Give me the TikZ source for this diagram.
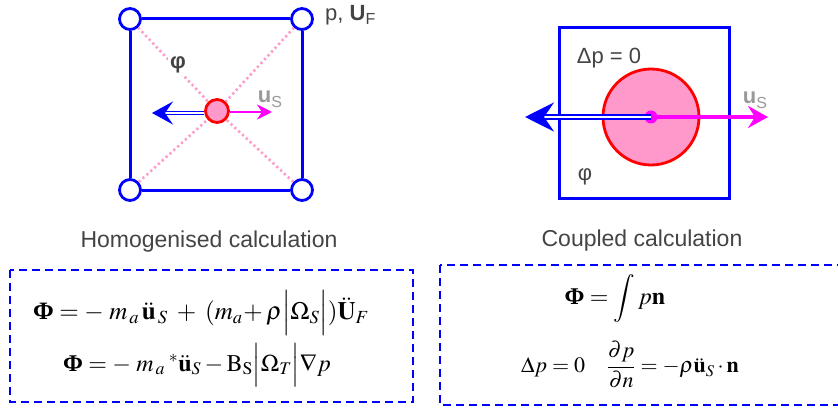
\documentclass[tikz,border=0pt]{standalone}
\usepackage{mathptmx}
\usepackage{amsmath}
\usepackage[no-math]{fontspec}
\setmainfont{Liberation Serif}
\setsansfont{Liberation Sans}
\usetikzlibrary{arrows.meta,positioning,calc}
\definecolor{CellBlue}{HTML}{0000FF}
\definecolor{SolidRed}{HTML}{FF0000}
\definecolor{SolidPink}{HTML}{FF99CC}
\definecolor{Velo}{HTML}{FF00FF}
\definecolor{Ink}{HTML}{444444}
\definecolor{InkLight}{HTML}{999999}
\newcommand{\lowsub}[1]{\raisebox{-0.4ex}{\fontsize{16}{16}\selectfont\mdseries #1}}
\newcommand{\BPhi}{\text{\bfseries Φ}}

\begin{document}
\begin{tikzpicture}[x=1pt,y=-1pt,
  corner/.style={circle,draw=CellBlue,fill=white,line width=2.8pt,minimum size=21pt,inner sep=0pt},
  cellside/.style={CellBlue,line width=3pt},
  diagline/.style={SolidPink,line width=2.6pt,dash pattern=on 2.2pt off 3pt},
  solid/.style={circle,draw=SolidRed,fill=SolidPink,line width=2.8pt,inner sep=0pt},
  force/.style={draw=CellBlue,double=white,line width=1.5pt,double distance=1.6pt},
  velo/.style={Velo,line width=2.8pt},
  lbl/.style={font=\sffamily\fontsize{22}{26}\selectfont,text=Ink,inner sep=0pt},
  caption/.style={font=\sffamily\fontsize{23}{28}\selectfont,text=Ink,inner sep=0pt},
  eqn/.style={font=\fontsize{24}{28}\selectfont,inner sep=0pt},
  eqbox/.style={CellBlue,line width=2.2pt,dash pattern=on 8pt off 5pt}]
\useasboundingbox (0,0) rectangle (838,409);
\clip (0,0) rectangle (838,409);
% homogenised cell
\node[corner] (cTL) at (130,19) {};
\node[corner] (cTR) at (302,19) {};
\node[corner] (cBL) at (130,190) {};
\node[corner] (cBR) at (302,190) {};
\node[solid,minimum size=23pt] (solidL) at (217,111) {};
\draw[diagline] (cTL) -- (solidL);
\draw[diagline] (cTR) -- (solidL);
\draw[diagline] (cBL) -- (solidL);
\draw[diagline] (cBR) -- (solidL);
\draw[cellside] (cTL) -- (cTR);
\draw[cellside] (cTR) -- (cBR);
\draw[cellside] (cBR) -- (cBL);
\draw[cellside] (cBL) -- (cTL);
\node[lbl,font=\sffamily\bfseries\fontsize{22}{26}\selectfont,fill=white,inner sep=2pt] (phiL) at (178,65) {φ};
\node[lbl,anchor=west] (pUF) at (325,15) {p, \textbf{U}\lowsub{F}};
\coordinate (forceL) at (152,113);
\coordinate (veloL) at (272,112);
\draw[force,-{Stealth[length=21pt,width=23pt,inset=8pt]}] (solidL.west |- forceL) -- (forceL);
\draw[velo,-{Stealth[length=15pt,width=15pt,inset=5pt]}] (solidL.east |- veloL) -- (veloL);
\node[lbl,text=InkLight] (usL) at (270,99) {\textbf{u}\lowsub{S}};
% coupled cell
\node[draw=CellBlue,line width=3pt,minimum size=170pt,inner sep=0pt] (cellR) at (644,113) {};
\node[solid,minimum size=96pt] (solidR) at (651,117) {};
\node[circle,fill=Velo,minimum size=13pt,inner sep=0pt] (dotR) at (651,117) {};
\coordinate (forceR) at (525,117);
\coordinate (veloR) at (768,117);
\draw[force,line width=1.7pt,double distance=1.8pt,-{Stealth[length=29pt,width=29pt,inset=10pt]}] (dotR.center) -- (forceR);
\draw[velo,line width=3.4pt,-{Stealth[length=20pt,width=22pt,inset=7pt]}] (dotR.center) -- (veloR);
\node[lbl] (lapR) at (609,58) {Δp = 0};
\node[lbl] (phiR) at (585,177) {φ};
\node[lbl,text=InkLight] (usR) at (755,100) {\textbf{u}\lowsub{S}};
% captions
\node[caption] (capL) at (209,242) {Homogenised calculation};
\node[caption] (capR) at (642,241) {Coupled calculation};
% equations
\draw[eqbox] (10,270) rectangle (413,402);
\draw[eqbox] (440,265) rectangle (860,405);
\node[eqn,font=\fontsize{25}{29}\selectfont] (eqL1) at (201,313) {$\BPhi = -\;m_{\,a}\,\ddot{\mathbf{u}}_{\,S} \;+\; (m_a\!+\rho\Bigl|\Omega_S\Bigr|)\ddot{\mathbf{U}}_F$};
\node[eqn] (eqL2) at (197,365) {$\BPhi = -\;m_{\,a}{}^{\;*}\ddot{\mathbf{u}}_S - \mathrm{B_S}\Bigl|\Omega_T\Bigr|\nabla p$};
\node[eqn] (eqR1) at (615,298) {$\BPhi = \displaystyle\int p\mathbf{n}$};
\node[eqn,font=\fontsize{22}{26}\selectfont] (eqR2) at (630,365) {$\Delta p = 0 \quad \dfrac{\partial p}{\partial n} = -\rho\ddot{\mathbf{u}}_S\cdot\mathbf{n}$};
\end{tikzpicture}
\end{document}
